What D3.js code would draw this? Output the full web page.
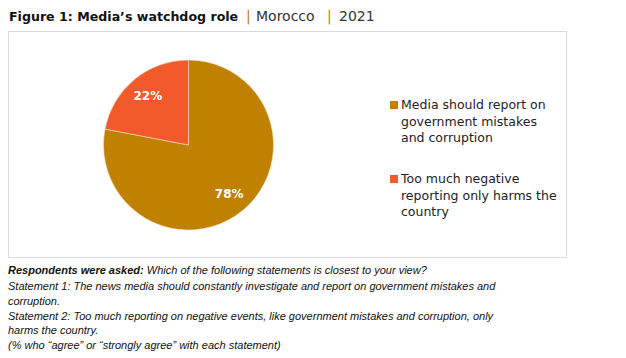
<!DOCTYPE html>
<html>
<head>
<meta charset="utf-8">
<script src="https://cdn.jsdelivr.net/npm/d3@7"></script>
<style>
  body { margin: 0; background: #fff; }
  svg { display: block; font-family: "DejaVu Sans", sans-serif; }
</style>
</head>
<body>
<div id="container"></div>
<script>
var categories = ['Media should report on government mistakes and corruption', 'Too much negative reporting only harms the country'];
var values = [78, 22];
var legendLines = [
  ['Media should report on', 'government mistakes', 'and corruption'],
  ['Too much negative', 'reporting only harms the', 'country']
];
var colors = ['#C08000', '#F2592B'];
var noteLines = [
  'Statement 1: The news media should constantly investigate and report on government mistakes and',
  'corruption.',
  'Statement 2: Too much reporting on negative events, like government mistakes and corruption, only',
  'harms the country.',
  '(% who \u201cagree\u201d or \u201cstrongly agree\u201d with each statement)'
];

var svgWidth = 626,
    svgHeight = 358,
    svg = d3.select('#container').append('svg').attr('width', svgWidth).attr('height', svgHeight);

// title
var title = svg.append('text').attr('x', 9).attr('y', 21).style('font-size', '14px').attr('fill', '#111');
title.append('tspan').attr('font-weight', 'bold').style('font-size', '12.6px').text('Figure 1: Media\u2019s watchdog role');
title.append('tspan').attr('x', 246).attr('fill', '#C08000').text('|');
title.append('tspan').attr('x', 256).attr('fill', '#333').text('Morocco');
title.append('tspan').attr('x', 327).attr('fill', '#C08000').text('|');
title.append('tspan').attr('x', 339).attr('fill', '#333').text('2021');

// chart frame
svg.append('rect')
  .attr('x', 8.5).attr('y', 31.5)
  .attr('width', 558).attr('height', 226)
  .attr('fill', 'none').attr('stroke', '#d9d9d9').attr('stroke-width', 1);

var cx = 188.5, cy = 145, r = 85;

var pie = d3.pie().sort(null).value(function(d) { return d; });
var arc = d3.arc().innerRadius(0).outerRadius(r);
var labelArc = d3.arc().innerRadius(r * 0.75).outerRadius(r * 0.75);

var g = svg.append('g').attr('transform', 'translate(' + cx + ',' + cy + ')');
var arcs = pie(values);

g.selectAll('path')
  .data(arcs)
  .enter().append('path')
  .attr('d', arc)
  .attr('fill', function(d, i) { return colors[i]; })
  .attr('stroke', '#f3e0c0')
  .attr('stroke-width', 0.6);

g.selectAll('text.lbl')
  .data(arcs)
  .enter().append('text')
  .attr('class', 'lbl')
  .attr('transform', function(d) { return 'translate(' + labelArc.centroid(d) + ')'; })
  .attr('dy', '0.35em')
  .style('text-anchor', 'middle')
  .style('font-size', '12px')
  .style('font-weight', 'bold')
  .attr('fill', '#fff')
  .text(function(d) { return d.data + '%'; });

// legend
var legend = svg.selectAll('g.legend')
  .data(categories)
  .enter().append('g')
  .attr('class', 'legend')
  .attr('transform', function(d, i) { return 'translate(390,' + (105 + i * 74) + ')'; });

legend.append('rect')
  .attr('x', 0).attr('y', -4).attr('width', 8).attr('height', 8)
  .attr('fill', function(d, i) { return colors[i]; });

legend.append('text')
  .attr('x', 11)
  .style('font-size', '12.5px')
  .attr('fill', '#222')
  .selectAll('tspan')
  .data(function(d, i) { return legendLines[i]; })
  .enter().append('tspan')
  .attr('x', 11)
  .attr('y', function(d, j) { return j * 16.3; })
  .attr('dy', '0.35em')
  .text(function(d) { return d; });

// notes
var note = svg.append('text')
  .style('font-family', '"Liberation Sans", Arial, sans-serif')
  .style('font-size', '11px').style('font-style', 'italic').attr('fill', '#111');
var first = note.append('tspan').attr('x', 8).attr('y', 274);
first.append('tspan').attr('font-weight', 'bold').text('Respondents were asked:');
first.append('tspan').text(' Which of the following statements is closest to your view?');
note.selectAll('tspan.line')
  .data(noteLines)
  .enter().append('tspan')
  .attr('class', 'line')
  .attr('x', 8)
  .attr('y', function(d, i) { return 290 + i * 14.8; })
  .text(function(d) { return d; });
</script>
</body>
</html>
